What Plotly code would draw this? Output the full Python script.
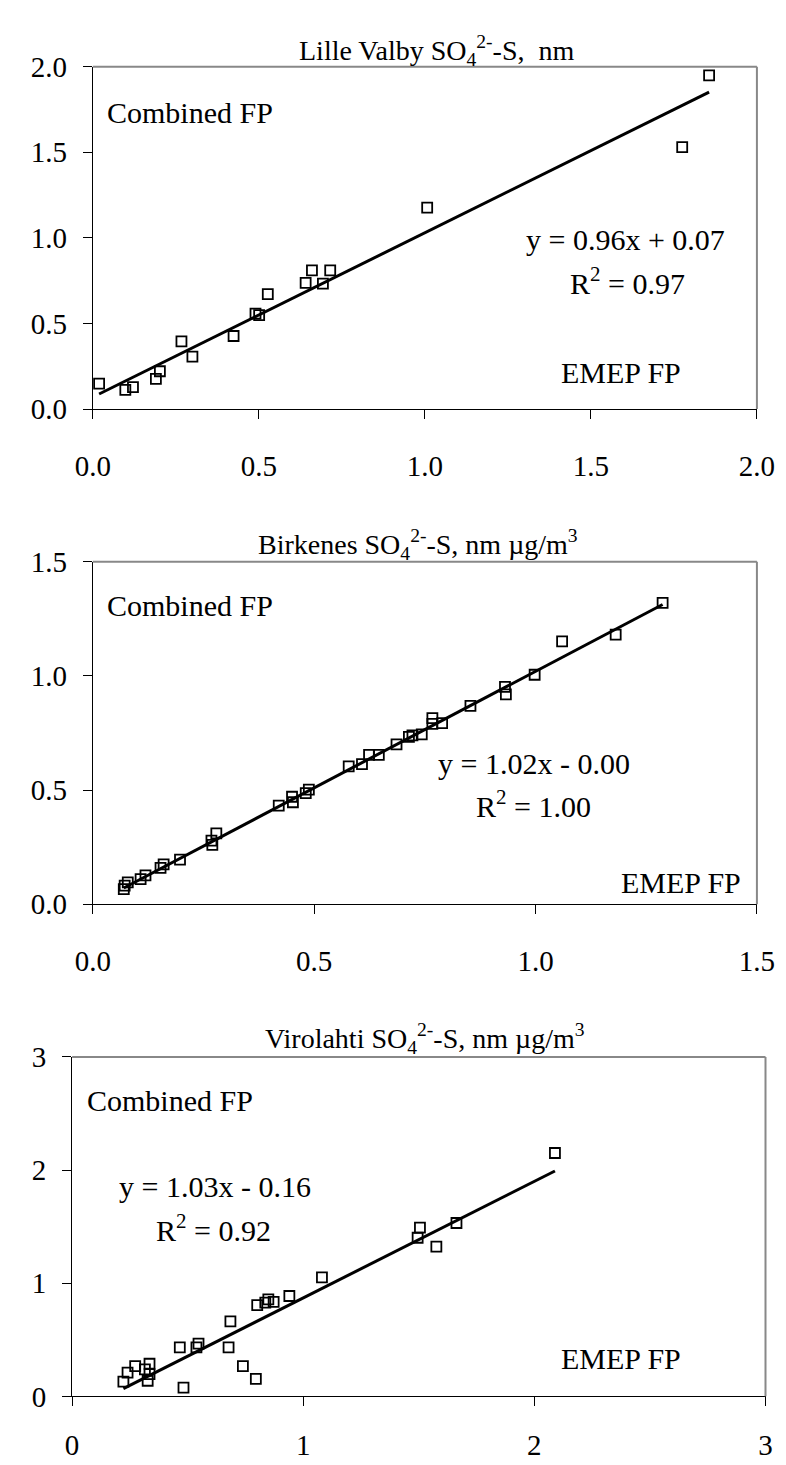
import plotly.graph_objects as go

# ---------------- data ----------------
lv_x = [0.019, 0.098, 0.121, 0.190, 0.202, 0.267, 0.300, 0.424, 0.490, 0.501,
        0.527, 0.641, 0.660, 0.693, 0.715, 1.007, 1.775, 1.856]
lv_y = [0.149, 0.112, 0.128, 0.177, 0.221, 0.396, 0.307, 0.427, 0.558, 0.549,
        0.672, 0.737, 0.811, 0.733, 0.811, 1.177, 1.531, 1.950]
lv_fit = (0.96, 0.07)

bk_x = [0.070, 0.072, 0.079, 0.108, 0.119, 0.153, 0.160, 0.197, 0.268, 0.270,
        0.279, 0.420, 0.450, 0.452, 0.481, 0.488, 0.578, 0.608, 0.624, 0.646,
        0.686, 0.714, 0.722, 0.743, 0.767, 0.767, 0.789, 0.853, 0.931, 0.933,
        0.998, 1.060, 1.181, 1.287]
bk_y = [0.067, 0.082, 0.096, 0.110, 0.127, 0.160, 0.175, 0.196, 0.279, 0.260,
        0.311, 0.432, 0.471, 0.447, 0.487, 0.502, 0.604, 0.614, 0.654, 0.654,
        0.700, 0.733, 0.740, 0.744, 0.815, 0.790, 0.793, 0.869, 0.952, 0.919,
        1.005, 1.151, 1.181, 1.320]
bk_fit = (1.02, -0.00)

vi_x = [0.222, 0.240, 0.273, 0.315, 0.327, 0.335, 0.335, 0.466, 0.482, 0.538,
        0.547, 0.677, 0.685, 0.739, 0.795, 0.801, 0.836, 0.849, 0.872, 0.940,
        1.081, 1.495, 1.505, 1.576, 1.663, 2.089]
vi_y = [0.130, 0.210, 0.268, 0.239, 0.138, 0.288, 0.196, 0.432, 0.078, 0.432,
        0.466, 0.432, 0.662, 0.268, 0.155, 0.806, 0.829, 0.858, 0.835, 0.887,
        1.051, 1.402, 1.491, 1.324, 1.532, 2.151]
vi_fit = (1.03, -0.16)

titles = ["Lille Valby SO<sub>4</sub><sup>2-</sup>-S,  nm",
          "Birkenes SO<sub>4</sub><sup>2-</sup>-S, nm µg/m<sup>3</sup>",
          "Virolahti SO<sub>4</sub><sup>2-</sup>-S, nm µg/m<sup>3</sup>"]
equations = ["y = 0.96x + 0.07", "y = 1.02x - 0.00", "y = 1.03x - 0.16"]
r2_labels = ["R<sup>2</sup> = 0.97", "R<sup>2</sup> = 1.00", "R<sup>2</sup> = 0.92"]
axis_max = [2.0, 1.5, 3.0]
axis_dtick = [0.5, 0.5, 1.0]
axis_fmt = [".1f", ".1f", "d"]

# ---------------- layout helpers ----------------
W, H = 786, 1465
FONT = "Liberation Serif"


def px(xp):
    return xp / W


def py(yp):
    return 1 - yp / H


# plot areas in pixels: (left, right, top, bottom)
boxes = [(70, 766, 43.7, 393.7), (70, 766, 549.7, 900), (48.3, 775, 1056, 1403)]
x_standoff = [22, 22, 14]
title_pos = [(431, 27), (411, 532), (418, 1037)]
ann_pos = [
    [(171.5, 90), (628, 220), (630, 263), (624, 356)],
    [(171.5, 594), (532, 756), (532, 797), (686, 878)],
    [(151, 1101), (198, 1188), (196, 1231), (624, 1364)],
]

fig = go.Figure()
datasets = [(lv_x, lv_y, lv_fit), (bk_x, bk_y, bk_fit), (vi_x, vi_y, vi_fit)]
annotations = []
shapes = []

for i, (xs, ys, (m, b)) in enumerate(datasets):
    n = "" if i == 0 else str(i + 1)
    xa, ya = "x" + n, "y" + n
    fig.add_trace(go.Scatter(
        x=xs, y=ys, mode="markers", xaxis=xa, yaxis=ya, showlegend=False,
        marker=dict(symbol="square-open", size=10, color="black",
                    line=dict(width=1.8, color="black"))))
    x0, x1 = min(xs), max(xs)
    fig.add_trace(go.Scatter(
        x=[x0, x1], y=[m * x0 + b, m * x1 + b], mode="lines",
        xaxis=xa, yaxis=ya, showlegend=False,
        line=dict(color="black", width=3)))

    L, R, T, B = boxes[i]
    common = dict(range=[0, axis_max[i]], dtick=axis_dtick[i], tick0=0,
                  tickformat=axis_fmt[i], showgrid=False, zeroline=False,
                  showline=True, linecolor="black", linewidth=1,
                  ticks="outside", ticklen=9, tickwidth=1, tickcolor="black",
                  tickfont=dict(family=FONT, size=29, color="black"))
    fig.layout["xaxis" + n] = dict(domain=[px(L), px(R)], anchor=ya,
                                   ticklabelstandoff=x_standoff[i], **common)
    fig.layout["yaxis" + n] = dict(domain=[py(B), py(T)], anchor=xa,
                                   ticklabelstandoff=10, **common)

    # grey top and right frame
    shapes.append(dict(type="line", xref=xa + " domain", yref=ya + " domain",
                       x0=0, x1=1, y0=1, y1=1, line=dict(color="#888888", width=2)))
    shapes.append(dict(type="line", xref=xa + " domain", yref=ya + " domain",
                       x0=1, x1=1, y0=0, y1=1, line=dict(color="#888888", width=2)))

    tx, ty = title_pos[i]
    annotations.append(dict(text=titles[i], x=px(tx), y=py(ty), xref="paper",
                            yref="paper", showarrow=False, xanchor="center",
                            yanchor="middle",
                            font=dict(family=FONT, size=28, color="black")))
    texts = ["Combined FP", equations[i], r2_labels[i], "EMEP FP"]
    for t, (ax, ay) in zip(texts, ann_pos[i]):
        annotations.append(dict(text=t, x=px(ax), y=py(ay), xref="paper",
                                yref="paper", showarrow=False, xanchor="center",
                                yanchor="middle",
                                font=dict(family=FONT, size=30, color="black")))

fig.update_layout(width=W, height=H, margin=dict(l=0, r=0, t=0, b=0),
                  paper_bgcolor="white", plot_bgcolor="white",
                  annotations=annotations, shapes=shapes, showlegend=False)

fig.write_html("out.html")
